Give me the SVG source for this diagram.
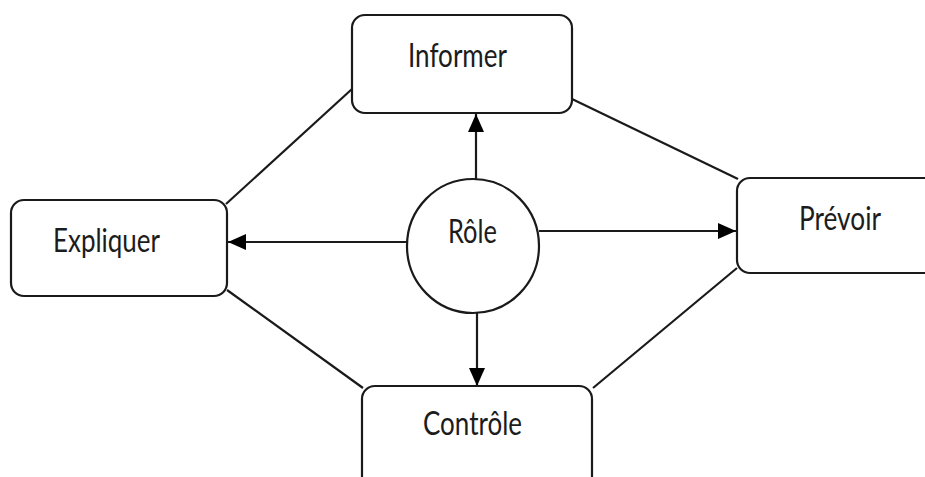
<svg xmlns="http://www.w3.org/2000/svg" width="925" height="477" viewBox="0 0 925 477">
  <style>
    .box { fill: #ffffff; stroke: #1a1a1a; stroke-width: 2.2; }
    .lbl { font-family: Lato, "Open Sans", "Liberation Sans", sans-serif; font-size: 33px; fill: #1c1c1c; }
    .edge { stroke: #1a1a1a; stroke-width: 2.2; fill: none; }
  </style>
  <defs>
    <marker id="arr" markerUnits="userSpaceOnUse" markerWidth="20" markerHeight="16" refX="18" refY="8" orient="auto">
      <path d="M0,0 L18,8 L0,16 Z" fill="#000000"/>
    </marker>
  </defs>
  <rect width="925" height="477" fill="#ffffff"/>

  <g id="connectors">
    <line class="edge" x1="226" y1="204" x2="352" y2="89"/>
    <line class="edge" x1="572" y1="99" x2="738" y2="179"/>
    <line class="edge" x1="227" y1="290" x2="363" y2="388"/>
    <line class="edge" x1="593" y1="388" x2="737" y2="268"/>
    <line class="edge" x1="476" y1="179" x2="476" y2="114" marker-end="url(#arr)"/>
    <line class="edge" x1="477" y1="312" x2="477" y2="386" marker-end="url(#arr)"/>
    <line class="edge" x1="407" y1="242" x2="228" y2="242" marker-end="url(#arr)"/>
    <line class="edge" x1="539" y1="231" x2="736" y2="231" marker-end="url(#arr)"/>
  </g>

  <g id="informer">
    <rect class="box" x="352" y="15" width="220" height="98" rx="13"/>
    <text class="lbl" x="408" y="67" textLength="99" lengthAdjust="spacingAndGlyphs">Informer</text>
  </g>
  <g id="expliquer">
    <rect class="box" x="11" y="200" width="216" height="96" rx="13"/>
    <text class="lbl" x="53" y="252" textLength="107" lengthAdjust="spacingAndGlyphs">Expliquer</text>
  </g>
  <g id="prevoir">
    <rect class="box" x="737" y="178" width="210" height="95" rx="13"/>
    <text class="lbl" x="799" y="230" textLength="82" lengthAdjust="spacingAndGlyphs">Prévoir</text>
  </g>
  <g id="controle">
    <rect class="box" x="362" y="386" width="230" height="110" rx="13"/>
    <text class="lbl" x="423" y="435" textLength="99" lengthAdjust="spacingAndGlyphs">Contrôle</text>
  </g>
  <g id="role">
    <ellipse class="box" cx="473" cy="246" rx="66" ry="67"/>
    <text class="lbl" x="448" y="243" textLength="49" lengthAdjust="spacingAndGlyphs">Rôle</text>
  </g>
</svg>
